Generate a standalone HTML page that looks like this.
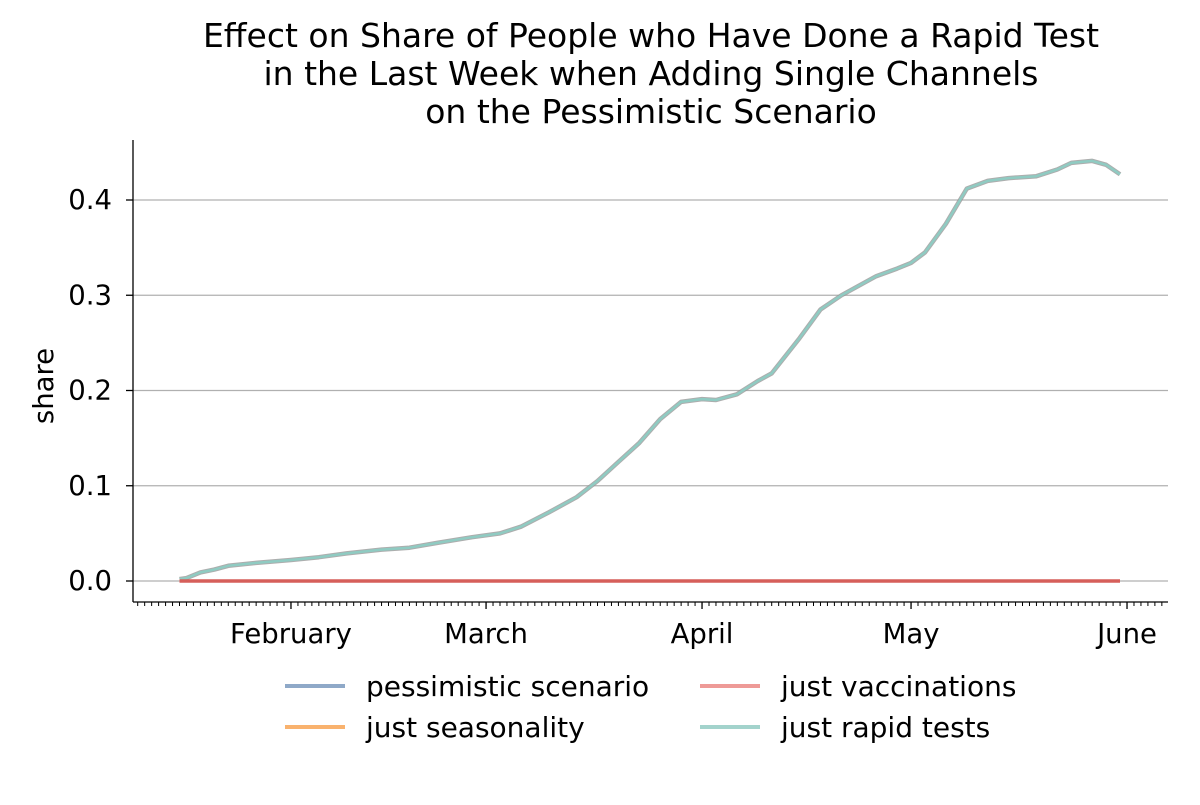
<!DOCTYPE html>
<html><head><meta charset="utf-8"><style>
html,body{margin:0;padding:0;background:#fff;}
svg text{font-family:"DejaVu Sans","Liberation Sans",sans-serif;fill:#000;}
</style></head><body>
<svg id="chart" width="1200" height="800" xmlns="http://www.w3.org/2000/svg">
<g font-size="33" text-anchor="middle">
<text x="651" y="47">Effect on Share of People who Have Done a Rapid Test</text>
<text x="651" y="85">in the Last Week when Adding Single Channels</text>
<text x="651" y="123">on the Pessimistic Scenario</text>
</g>
<g id="grid"></g>
<g id="yticks"></g>
<g id="xticks"></g>
<g id="series"></g>
<text x="53" y="386" font-size="27.5" text-anchor="middle" transform="rotate(-90 53 386)">share</text>
<g id="legend" font-size="28"></g>
</svg>
<script>
const yTicks=[0,0.1,0.2,0.3,0.4];
const monthLabels=["February","March","April","May","June"];
const monthDays=[31,59,90,120,151];
const days=[15,16,18,20,22,26,31,35,39,44,48,52,57,61,64,68,72,75,78,81,84,87,90,92,95,98,100,104,107,110,113,115,118,120,122,125,128,131,134,138,141,143,146,148,150];
const rapidTests=[0.002,0.003,0.009,0.012,0.016,0.019,0.022,0.025,0.029,0.033,0.035,0.040,0.046,0.050,0.057,0.072,0.088,0.105,0.125,0.145,0.170,0.188,0.191,0.190,0.196,0.210,0.218,0.255,0.285,0.300,0.312,0.320,0.328,0.334,0.345,0.375,0.412,0.420,0.423,0.425,0.432,0.439,0.441,0.437,0.427];
const pessimistic=days.map(()=>0);
const seasonality=days.map(()=>0);
const vaccinations=days.map(()=>0);
const NS="http://www.w3.org/2000/svg";
const X=d=>75+d*6.967, Y=v=>581-v*952.5;
function mk(t,a,p){const e=document.createElementNS(NS,t);for(const k in a)e.setAttribute(k,a[k]);p.appendChild(e);return e;}
const grid=document.getElementById('grid'),yt=document.getElementById('yticks'),xt=document.getElementById('xticks'),se=document.getElementById('series'),lg=document.getElementById('legend');
yTicks.forEach(v=>{
 const g=mk('line',{x1:133,x2:1168,y1:Y(v),y2:Y(v),stroke:'#b0b0b0','stroke-width':1.3},grid);
 
 
 mk('line',{x1:126,x2:133,y1:Y(v),y2:Y(v),stroke:'#000','stroke-width':1.3},yt);
 const t=mk('text',{x:112,y:Y(v)+9,'font-size':27.5,'text-anchor':'end'},yt);t.textContent=v.toFixed(1);
 
 
});
mk('line',{x1:133,x2:133,y1:140,y2:602,stroke:'#000','stroke-width':1.3},yt);
mk('line',{x1:133,x2:1168,y1:602,y2:602,stroke:'#000','stroke-width':1.3},xt);
for(let d=9;d<=156;d++){mk('line',{x1:X(d),x2:X(d),y1:602,y2:606,stroke:'#000','stroke-width':1},xt);}
monthDays.forEach((d,i)=>{
 mk('line',{x1:X(d),x2:X(d),y1:602,y2:609,stroke:'#000','stroke-width':1.3},xt);
 const t=mk('text',{x:X(d),y:643,'font-size':27.5,'text-anchor':'middle'},xt);t.textContent=monthLabels[i];
 
 
});
const pts=a=>a.map((v,i)=>X(days[i]).toFixed(1)+','+Y(v).toFixed(1)).join(' ');
const lines=[[rapidTests,'#999',4.5,0.8,'rapid-tests-outline'],[rapidTests,'#8fcbc2',2.5,1,'line-just-rapid-tests'],[pessimistic,'#8fa9c8',3,1,'line-pessimistic-scenario'],[seasonality,'#f9b26e',3,1,'line-just-seasonality'],[vaccinations,'#d65f5a',3.5,1,'line-just-vaccinations']];
lines.forEach(l=>{const p=mk('polyline',{points:pts(l[0]),fill:'none',stroke:l[1],'stroke-width':l[2],opacity:l[3],'stroke-linejoin':'round'},se);
 
 });
const leg=[['pessimistic scenario','#8fa9c8',285,687],['just seasonality','#f9b26e',285,728],['just vaccinations','#ee9a97',700,687],['just rapid tests','#a3d3cc',700,728]];
leg.forEach(l=>{const g=mk('g',{},lg);
 
 
 mk('line',{x1:l[2],x2:l[2]+60,y1:l[3]-1,y2:l[3]-1,stroke:l[1],'stroke-width':4},g);
 const t=mk('text',{x:l[2]+81,y:l[3]+9},g);t.textContent=l[0];});
</script>
</body></html>
